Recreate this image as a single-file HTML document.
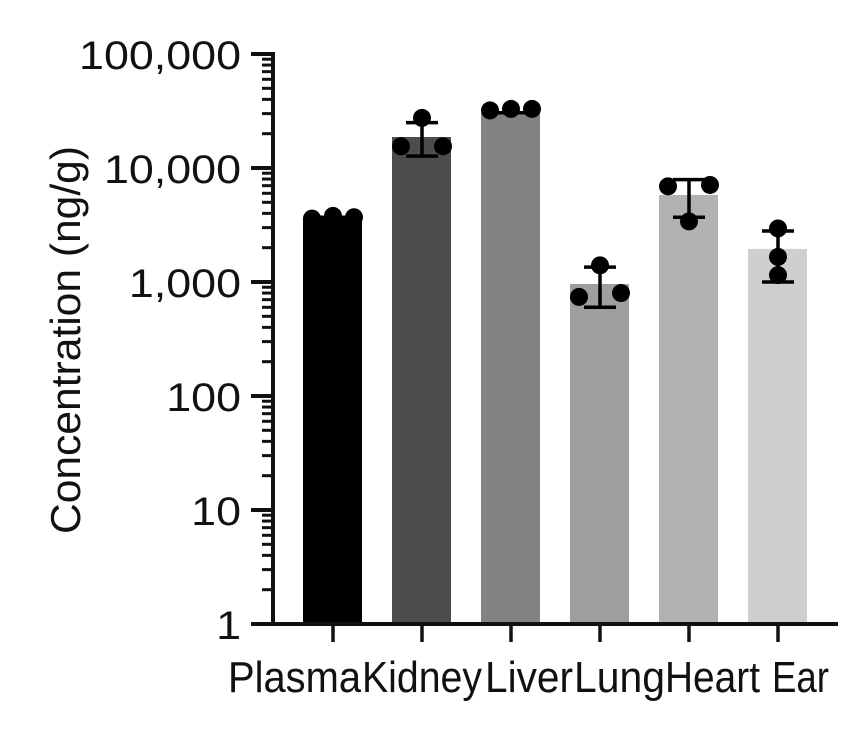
<!DOCTYPE html>
<html><head><meta charset="utf-8"><style>
body{margin:0;background:#fff}
svg text{font-family:"Liberation Sans",sans-serif;fill:#111}
</style></head><body>
<svg width="856" height="724">
<g id="ax"></g><g id="marks"></g>
</svg>
<script>
const categories=["Plasma","Kidney","Liver","Lung","Heart","Ear"];
const means=[3700,18700,30500,960,5800,1950];
const errLow=[3700,12700,30500,600,3700,1000];
const errHigh=[3700,25000,30500,1350,7900,2800];
const pts=[[3600,3800,3700],[27500,15500,15500],[32000,33000,33000],[1400,740,800],[6900,7100,3400],[2950,1660,1150]];
const colors=["#000","#4d4d4d","#838383","#9e9e9e","#b2b2b2","#cfcfcf"];
const yTicks=[1,10,100,1000,10000,100000];
const yLabels=["1","10","100","1,000","10,000","100,000"];
const NS="http://www.w3.org/2000/svg";
const y=v=>624-Math.log10(v)*114;
const x=i=>333+i*89;
const labelStart=[228,362,485,574,665,772];
const labelWidth=[133,120,88,91,95,57];
const ptOffsets=[[-21,0,21],[0,-21,21],[-21,0,21],[0,-21,21],[-21,21,0],[0,0,0]];
function mk(p,t,a){const e=document.createElementNS(NS,t);for(const k in a)e.setAttribute(k,a[k]);p.appendChild(e);return e;}
const ax=document.getElementById('ax'),mg=document.getElementById('marks');
let l=mk(ax,'line',{x1:273,y1:52,x2:273,y2:626,stroke:'#111','stroke-width':4});


l=mk(ax,'line',{x1:251,y1:624,x2:838,y2:624,stroke:'#111','stroke-width':4});


yTicks.forEach((v,i)=>{
  const t=mk(ax,'line',{x1:251,y1:y(v),x2:273,y2:y(v),stroke:'#111','stroke-width':4});
  
  
  const tx=mk(ax,'text',{x:241,y:y(v)+15,'text-anchor':'end','font-size':40});
  tx.textContent=yLabels[i];
  
  
  const w=tx.getComputedTextLength()*1.12;
  tx.setAttribute('textLength',w);
  tx.setAttribute('lengthAdjust','spacingAndGlyphs');
  if(i<yTicks.length-1){for(let m=2;m<10;m++){
    const mt=mk(ax,'line',{x1:262,y1:y(v*m),x2:273,y2:y(v*m),stroke:'#111','stroke-width':3});
    
    
  }}
});
const yt=mk(ax,'text',{x:0,y:0,'text-anchor':'middle','font-size':42,textLength:388,lengthAdjust:'spacingAndGlyphs',transform:'translate(80,340) rotate(-90)'});
yt.textContent="Concentration (ng/g)";


categories.forEach((c,i)=>{
  const cx=x(i);
  const b=mk(mg,'rect',{x:cx-30,y:y(means[i]),width:59,height:622-y(means[i]),fill:colors[i]});
  
  
  const tk=mk(ax,'line',{x1:cx,y1:624,x2:cx,y2:642,stroke:'#111','stroke-width':3.5});
  
  
  const lb=mk(ax,'text',{x:labelStart[i],y:692,'font-size':44,textLength:labelWidth[i],lengthAdjust:'spacingAndGlyphs'});
  lb.textContent=c;
  
  
  const g=mk(mg,'g',{stroke:'#000','stroke-width':3.5});
  
  
  mk(g,'line',{x1:cx,y1:y(errLow[i]),x2:cx,y2:y(errHigh[i])});
  mk(g,'line',{x1:cx-16,y1:y(errLow[i]),x2:cx+16,y2:y(errLow[i])});
  mk(g,'line',{x1:cx-16,y1:y(errHigh[i]),x2:cx+16,y2:y(errHigh[i])});
  pts[i].forEach((p,j)=>{
    const d=mk(mg,'circle',{cx:cx+ptOffsets[i][j],cy:y(p),r:9,fill:'#000'});
    
    
  });
});
</script>
</body></html>
